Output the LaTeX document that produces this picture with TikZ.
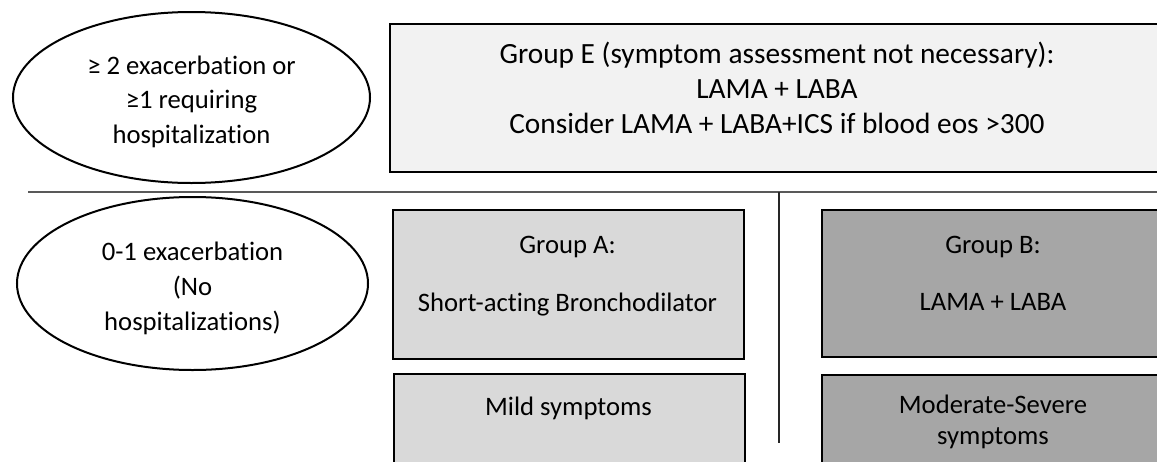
\documentclass[tikz,border=0pt]{standalone}
\usepackage{fontspec}
\setmainfont[Ligatures={NoCommon}]{Carlito}
\usetikzlibrary{shapes.geometric}
\definecolor{fillE}{HTML}{F2F2F2}
\definecolor{fillA}{HTML}{D9D9D9}
\definecolor{fillB}{HTML}{A6A6A6}
\definecolor{rulegray}{HTML}{595959}
\newcommand{\mytab}[1]{\begin{tabular}[t]{@{}c@{}}#1\end{tabular}}
\begin{document}
\begin{tikzpicture}[x=0.75pt,y=-0.75pt,
  panel/.style={draw=black,line width=1.5pt,rectangle,inner sep=0pt,anchor=north west},
  oval/.style={draw=black,line width=1.5pt,ellipse,inner sep=0pt},
  lbl/.style={inner sep=0pt,anchor=base},
  divider/.style={draw=rulegray,line width=1.5pt},
  splitter/.style={draw=black!85,line width=0.8pt},
]
\useasboundingbox (0,0) rectangle (1157,461);
\begin{scope}
\clip (0,0) rectangle (1157,461);
% shapes
\node[oval,minimum width=267.75pt,minimum height=128.25pt] (O1) at (191.5,97.5) {};
\node[oval,minimum width=263.25pt,minimum height=129.75pt] (O2) at (192.5,283.5) {};
\node[panel,fill=fillE,minimum width=581.25pt,minimum height=111pt] (E) at (389,23) {};
\node[panel,fill=fillA,minimum width=263.25pt,minimum height=111.75pt] (A) at (392,209) {};
\node[panel,fill=fillA,minimum width=263.25pt,minimum height=95.25pt] (M) at (393,373) {};
\node[panel,fill=fillB,minimum width=258pt,minimum height=110.25pt] (B) at (821,209) {};
\node[panel,fill=fillB,minimum width=258pt,minimum height=95.25pt] (S) at (821,374) {};
% dividers
\coordinate (hl) at (28,192);
\coordinate (hr) at (1162,192);
\coordinate (vt) at (779,192);
\coordinate (vb) at (779,443);
\draw[divider] (hl) -- (hr);
\draw[splitter] (vt) -- (vb);
% texts
\node[lbl,font=\fontsize{20}{25.9}\selectfont] (tO1) at (191.5,74)
  {\mytab{≥ 2 exacerbation or\\ ≥1 requiring\\ hospitalization}};
\node[lbl,font=\fontsize{20}{26.25}\selectfont] (tO2) at (192.5,260)
  {\mytab{0-1 exacerbation\\ (No\\ hospitalizations)}};
\node[lbl,font=\fontsize{22}{26.6}\selectfont] (tE) at (777,63)
  {\mytab{Group E (symptom assessment not necessary):\\ LAMA + LABA\\ Consider LAMA + LABA+ICS if blood eos >300}};
\node[lbl,font=\fontsize{20}{43.5}\selectfont] (tA) at (567.5,253)
  {\mytab{Group A:\\ Short-acting Bronchodilator}};
\node[lbl,font=\fontsize{20}{24}\selectfont] (tM) at (568.5,415)
  {\mytab{Mild symptoms}};
\node[lbl,font=\fontsize{20}{43}\selectfont] (tB) at (993,253)
  {\mytab{Group B:\\ LAMA + LABA}};
\node[lbl,font=\fontsize{20}{23.25}\selectfont] (tS) at (993,413)
  {\mytab{Moderate-Severe\\ symptoms}};
\end{scope}
\end{tikzpicture}
\end{document}
